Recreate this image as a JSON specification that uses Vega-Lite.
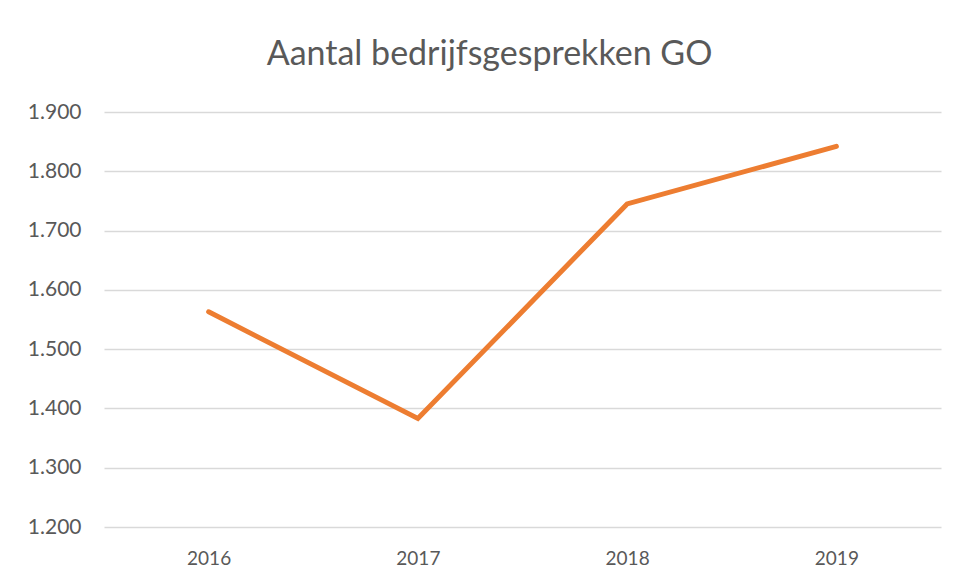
{
  "$schema": "https://vega.github.io/schema/vega-lite/v6.json",
  "width": 837,
  "height": 415,
  "autosize": {"type": "none"},
  "padding": {"left": 104, "top": 112, "right": 16, "bottom": 56},
  "background": "#ffffff",
  "config": {"view": {"stroke": null}},
  "title": {
    "text": "Aantal bedrijfsgesprekken GO",
    "font": "Lato",
    "fontSize": 34,
    "fontWeight": "normal",
    "color": "#595959",
    "anchor": "middle",
    "baseline": "alphabetic",
    "dx": -33,
    "offset": 2
  },
  "data": {
    "values": [
      {"jaar": "2016", "aantal": 1563},
      {"jaar": "2017", "aantal": 1383},
      {"jaar": "2018", "aantal": 1745},
      {"jaar": "2019", "aantal": 1842}
    ]
  },
  "mark": {"type": "line", "color": "#ED7D31", "strokeWidth": 5, "strokeCap": "round", "strokeJoin": "miter"},
  "encoding": {
    "x": {
      "field": "jaar",
      "type": "nominal",
      "sort": "ascending",
      "scale": {"type": "point", "padding": 0.5},
      "axis": {
        "title": null,
        "domain": false,
        "ticks": false,
        "grid": false,
        "labelAngle": 0,
        "labelFont": "Lato",
        "labelFontSize": 19,
        "labelColor": "#595959",
        "labelPadding": 22
      }
    },
    "y": {
      "field": "aantal",
      "type": "quantitative",
      "scale": {"domain": [1200, 1900], "nice": false, "zero": false},
      "axis": {
        "title": null,
        "domain": false,
        "ticks": false,
        "values": [1200, 1300, 1400, 1500, 1600, 1700, 1800, 1900],
        "labelExpr": "replace(format(datum.value, ','), ',', '.')",
        "labelFont": "Lato",
        "labelFontSize": 21,
        "labelColor": "#595959",
        "labelPadding": 23,
        "gridColor": "#d9d9d9",
        "gridWidth": 1.5
      }
    }
  }
}
